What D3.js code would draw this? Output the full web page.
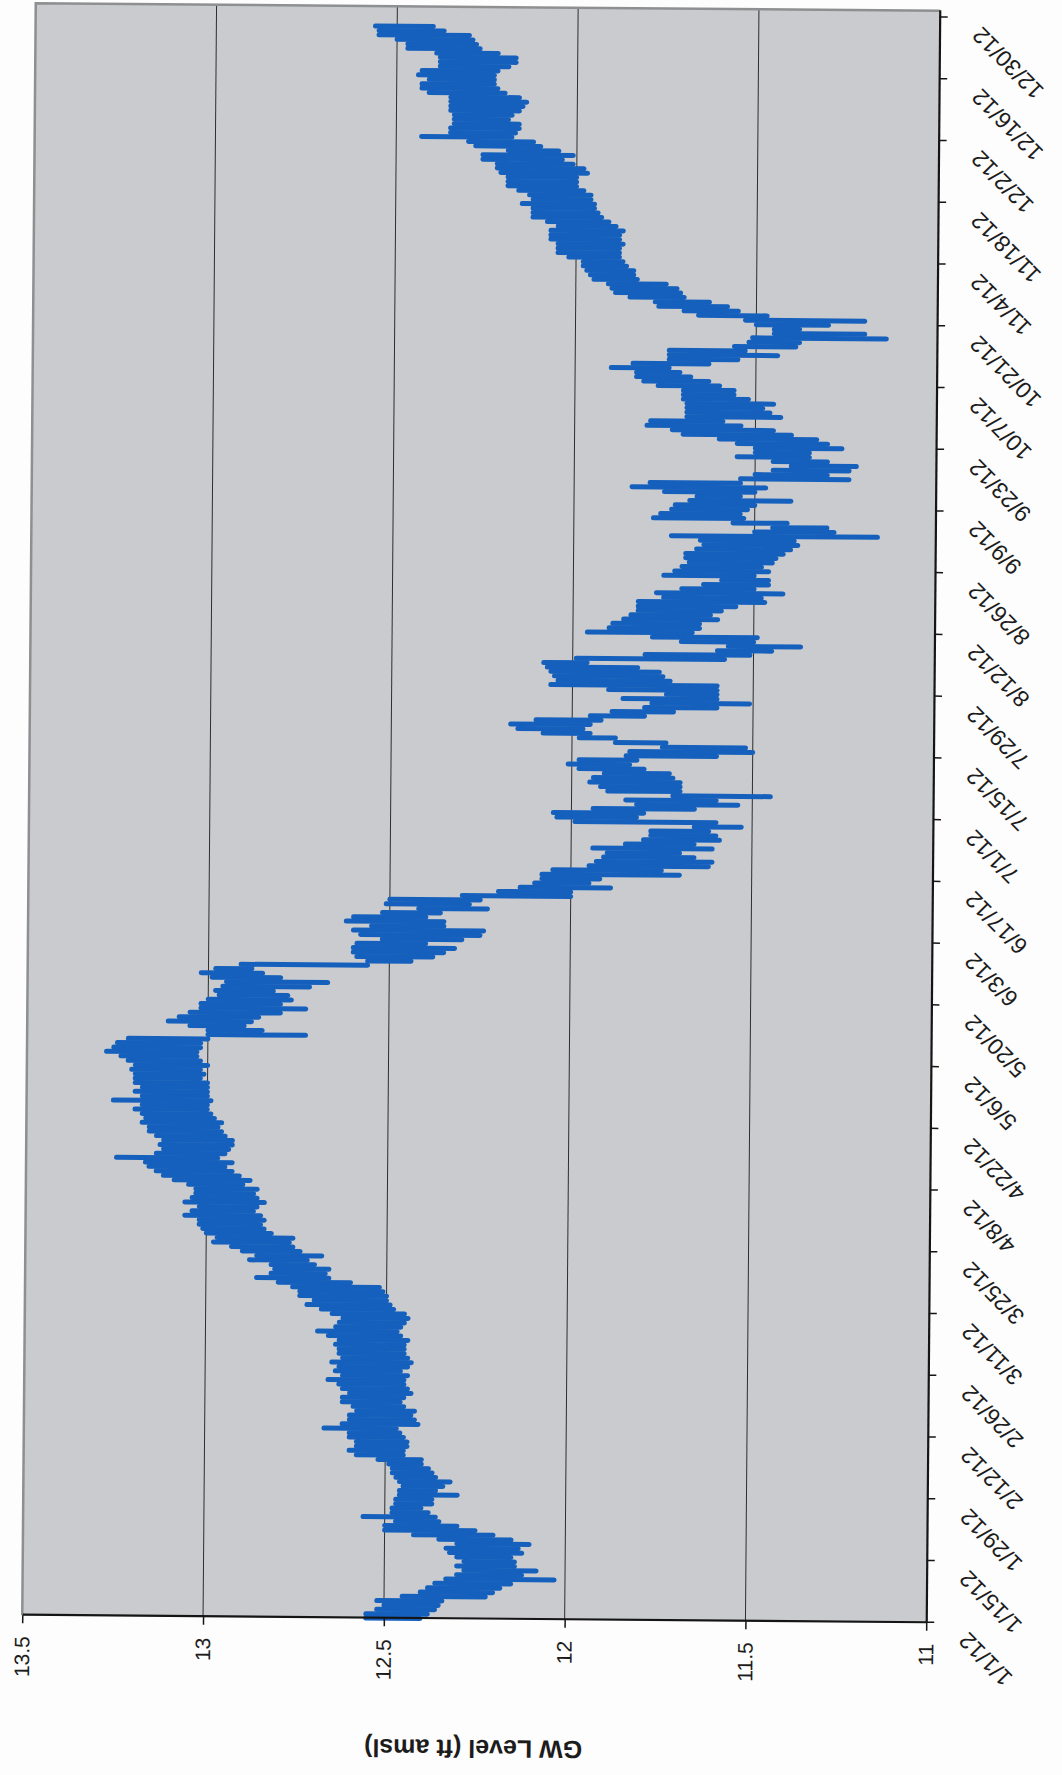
<!DOCTYPE html>
<html>
<head>
<meta charset="utf-8">
<script src="https://cdn.jsdelivr.net/npm/d3@7"></script>
<style>
  html, body { margin: 0; padding: 0; background: #fdfdfd; }
  svg { display: block; }
</style>
</head>
<body>
<svg id="chart" width="1062" height="1775"></svg>
<script>
// Daily groundwater level range (ft amsl), one entry per day starting 1/1/12
const startDate = Date.UTC(2012, 0, 1);
const endDate = Date.UTC(2012, 11, 31, 12);

const levelLow = [
  12.40,12.38,12.36,12.35,12.34,12.22,12.20,12.18,12.15,12.03,
  12.12,12.08,12.14,12.14,12.15,12.12,12.13,12.10,12.15,12.20,
  12.25,12.30,12.35,12.36,12.38,12.40,12.37,12.37,12.30,12.36,
  12.34,12.32,12.36,12.37,12.38,12.40,12.40,12.45,12.45,12.44,
  12.44,12.45,12.46,12.47,12.41,12.42,12.43,12.42,12.45,12.46,
  12.45,12.43,12.44,12.45,12.45,12.44,12.46,12.44,12.43,12.44,
  12.45,12.45,12.45,12.44,12.46,12.47,12.46,12.45,12.44,12.45,
  12.48,12.49,12.50,12.50,12.51,12.52,12.60,12.66,12.67,12.66,
  12.70,12.72,12.68,12.74,12.76,12.77,12.76,12.82,12.84,12.85,
  12.84,12.85,12.87,12.86,12.84,12.86,12.87,12.86,12.90,12.88,
  12.91,12.93,12.95,12.93,12.97,12.95,12.94,12.93,12.93,12.95,
  12.96,12.97,12.96,12.98,12.99,13.00,13.00,12.99,13.00,13.00,
  13.00,13.00,13.02,13.01,13.02,13.00,13.02,13.03,13.03,13.02,
  13.02,13.00,12.73,12.85,12.90,12.88,12.86,12.80,12.73,12.80,
  12.77,12.78,12.82,12.72,12.67,12.80,12.85,12.88,12.56,12.44,
  12.38,12.35,12.32,12.40,12.30,12.25,12.24,12.35,12.35,12.40,
  12.36,12.23,12.28,12.25,12.00,12.00,11.89,11.95,11.92,11.70,
  11.75,11.62,11.61,11.66,11.70,11.61,11.66,11.59,11.60,11.62,
  11.53,11.60,11.82,11.80,11.66,11.54,11.60,11.45,11.70,11.70,
  11.70,11.72,11.73,11.80,11.84,11.82,11.60,11.50,11.52,11.74,
  11.88,11.95,11.97,11.95,11.92,11.80,11.72,11.60,11.51,11.60,
  11.60,11.60,11.60,11.73,11.75,11.76,11.82,11.96,11.58,11.51,
  11.45,11.37,11.50,11.49,11.67,11.65,11.65,11.60,11.62,11.59,
  11.55,11.47,11.48,11.42,11.50,11.46,11.46,11.50,11.46,11.48,
  11.45,11.44,11.42,11.40,11.38,11.39,11.16,11.28,11.30,11.41,
  11.53,11.54,11.52,11.50,11.40,11.54,11.50,11.47,11.54,11.24,
  11.30,11.24,11.22,11.30,11.35,11.35,11.26,11.30,11.33,11.40,
  11.45,11.54,11.59,11.43,11.46,11.48,11.45,11.52,11.56,11.56,
  11.60,11.63,11.68,11.71,11.74,11.63,11.55,11.44,11.53,11.39,
  11.38,11.14,11.20,11.38,11.30,11.20,11.47,11.55,11.58,11.63,
  11.70,11.71,11.72,11.75,11.83,11.84,11.84,11.86,11.87,11.88,
  11.88,11.88,11.87,11.88,11.88,11.87,11.89,11.91,11.93,11.94,
  11.95,11.95,11.96,11.96,11.98,12.00,12.00,12.00,11.97,11.98,
  12.01,12.04,12.01,12.05,12.10,12.12,12.18,12.17,12.16,12.16,
  12.19,12.18,12.16,12.15,12.14,12.16,12.20,12.22,12.23,12.23,
  12.23,12.22,12.19,12.17,12.17,12.22,12.27,12.28,12.29,12.30,
  12.37,12.40
];

const levelHigh = [
  12.55,12.55,12.52,12.50,12.52,12.45,12.40,12.38,12.36,12.33,
  12.30,12.28,12.30,12.28,12.30,12.32,12.33,12.30,12.35,12.42,
  12.50,12.50,12.47,12.56,12.48,12.48,12.47,12.47,12.46,12.46,
  12.45,12.46,12.47,12.48,12.48,12.49,12.52,12.58,12.60,12.58,
  12.58,12.60,12.60,12.67,12.62,12.60,12.60,12.58,12.59,12.62,
  12.62,12.60,12.62,12.63,12.66,12.62,12.64,12.63,12.65,12.62,
  12.63,12.63,12.64,12.63,12.66,12.69,12.64,12.63,12.62,12.65,
  12.68,12.72,12.70,12.74,12.74,12.76,12.80,12.86,12.82,12.81,
  12.82,12.88,12.86,12.90,12.93,12.98,12.97,13.00,13.01,13.02,
  13.02,13.06,13.04,13.02,13.06,13.04,13.03,13.03,13.05,13.09,
  13.12,13.14,13.16,13.17,13.25,13.14,13.12,13.13,13.12,13.14,
  13.16,13.16,13.18,13.17,13.18,13.20,13.18,13.26,13.18,13.20,
  13.18,13.20,13.20,13.20,13.21,13.20,13.22,13.24,13.28,13.26,
  13.25,13.22,13.00,13.00,13.05,13.11,13.08,13.05,13.02,13.02,
  13.00,12.97,12.98,12.96,12.95,12.99,13.02,12.98,12.91,12.56,
  12.59,12.60,12.60,12.59,12.52,12.58,12.60,12.55,12.62,12.60,
  12.52,12.42,12.51,12.50,12.30,12.20,12.14,12.10,12.08,12.08,
  12.05,11.95,11.93,11.91,11.90,11.94,11.85,11.80,11.78,11.78,
  11.66,11.99,12.04,12.05,11.94,11.82,11.85,11.72,11.90,11.92,
  11.95,11.94,11.91,11.98,12.01,11.98,11.85,11.84,11.75,11.88,
  11.98,12.08,12.15,12.17,12.10,11.95,11.89,11.80,11.78,11.86,
  11.74,11.90,12.06,12.04,12.05,12.06,12.07,12.08,11.99,11.80,
  11.60,11.57,11.70,11.78,11.96,11.90,11.89,11.86,11.84,11.82,
  11.82,11.82,11.75,11.77,11.70,11.64,11.59,11.75,11.72,11.70,
  11.68,11.69,11.69,11.66,11.64,11.65,11.73,11.50,11.45,11.56,
  11.78,11.76,11.73,11.72,11.68,11.66,11.75,11.84,11.79,11.54,
  11.50,11.45,11.40,11.45,11.55,11.50,11.50,11.55,11.60,11.70,
  11.73,11.80,11.79,11.69,11.69,11.69,11.69,11.70,11.70,11.70,
  11.77,11.81,11.83,11.83,11.90,11.84,11.74,11.74,11.74,11.56,
  11.52,11.51,11.45,11.45,11.50,11.53,11.66,11.70,11.77,11.78,
  11.85,11.89,11.90,11.91,11.95,11.96,11.97,11.98,11.98,12.02,
  12.05,12.05,12.05,12.07,12.07,12.07,12.05,12.08,12.12,12.12,
  12.12,12.15,12.12,12.13,12.16,12.19,12.19,12.19,12.21,12.22,
  12.22,12.26,12.26,12.19,12.28,12.30,12.43,12.35,12.35,12.34,
  12.34,12.34,12.35,12.35,12.35,12.35,12.41,12.43,12.43,12.41,
  12.44,12.43,12.38,12.38,12.38,12.39,12.47,12.47,12.50,12.55,
  12.55,12.56
];

const levelTicks = [11, 11.5, 12, 12.5, 13, 13.5];
const levelTickLabels = ["11", "11.5", "12", "12.5", "13", "13.5"];
const gridLevels = [11.5, 12, 12.5, 13];
const dateTickLabels = [
  "1/1/12", "1/15/12", "1/29/12", "2/12/12", "2/26/12", "3/11/12", "3/25/12",
  "4/8/12", "4/22/12", "5/6/12", "5/20/12", "6/3/12", "6/17/12", "7/1/12",
  "7/15/12", "7/29/12", "8/12/12", "8/26/12", "9/9/12", "9/23/12", "10/7/12",
  "10/21/12", "11/4/12", "11/18/12", "12/2/12", "12/16/12", "12/30/12"
];

const FONT = "'Liberation Sans', Arial, Helvetica, sans-serif";
const W = 1612;   // plot length along the date axis
const H = 904;    // plot length along the level axis

const svg = d3.select("#chart");
// whole chart is laid on its side, with a slight tilt of the page
const page = svg.append("g").attr("transform", "rotate(0.48,481,813)");
const g = page.append("g").attr("transform", "translate(29,1619) rotate(-90)");

const x = d3.scaleUtc().domain([startDate, endDate]).range([0, W]);
const y = d3.scaleLinear().domain([11, 13.5]).range([H, 0]);

// plot area
g.append("rect")
  .attr("width", W).attr("height", H)
  .attr("fill", "#c9cbce");

// horizontal gridlines
g.append("g").selectAll("line").data(gridLevels).join("line")
  .attr("x1", 0).attr("x2", W)
  .attr("y1", d => y(d)).attr("y2", d => y(d))
  .attr("stroke", "#2e2e2e").attr("stroke-width", 1);

// plot frame (top and right)
g.append("path")
  .attr("d", `M0,0H${W}V${H}`)
  .attr("fill", "none").attr("stroke", "#8e8f91").attr("stroke-width", 2.5);

// daily level range
const parseTick = d3.utcParse("%m/%d/%y");
const days = levelLow.map((lo, i) => ({
  date: d3.utcDay.offset(new Date(startDate), i),
  lo: lo,
  hi: levelHigh[i]
}));
g.append("g").selectAll("line").data(days).join("line")
  .attr("x1", d => x(d.date)).attr("x2", d => x(d.date))
  .attr("y1", d => y(d.lo)).attr("y2", d => y(d.hi))
  .attr("stroke", "#1560bd")
  .attr("stroke-width", 5)
  .attr("stroke-linecap", "round");

// date axis
const tickDates = dateTickLabels.map(s => parseTick(s));
const xAxis = d3.axisBottom(x)
  .tickValues(tickDates)
  .tickSize(8).tickSizeOuter(0)
  .tickFormat((d, i) => dateTickLabels[i]);
const xa = g.append("g").attr("transform", `translate(0,${H})`).call(xAxis);
xa.select(".domain").attr("stroke", "#151515").attr("stroke-width", 2.2);
xa.selectAll(".tick line").attr("stroke", "#151515").attr("stroke-width", 1.5);
xa.selectAll(".tick text")
  .attr("font-family", FONT).attr("font-size", 23).attr("fill", "#1c1c1c")
  .attr("text-anchor", "end")
  .attr("x", 0).attr("y", 0).attr("dy", "0.35em")
  .attr("transform", "translate(-14,37) rotate(-45)");

// level axis
const yAxis = d3.axisLeft(y)
  .tickValues(levelTicks)
  .tickSize(8).tickSizeOuter(0).tickPadding(13)
  .tickFormat((d, i) => levelTickLabels[i]);
const ya = g.append("g").call(yAxis);
ya.select(".domain").attr("stroke", "#151515").attr("stroke-width", 2.2);
ya.selectAll(".tick line").attr("stroke", "#151515").attr("stroke-width", 1.5);
ya.selectAll(".tick text")
  .attr("font-family", FONT).attr("font-size", 21).attr("fill", "#1c1c1c");

// level axis title
g.append("text")
  .attr("transform", `translate(-130,${H / 2}) rotate(-90)`)
  .attr("text-anchor", "middle")
  .attr("dominant-baseline", "central")
  .attr("font-family", FONT).attr("font-size", 25).attr("font-weight", "bold")
  .attr("fill", "#1c1c1c")
  .text("GW Level (ft amsl)");
</script>
</body>
</html>
